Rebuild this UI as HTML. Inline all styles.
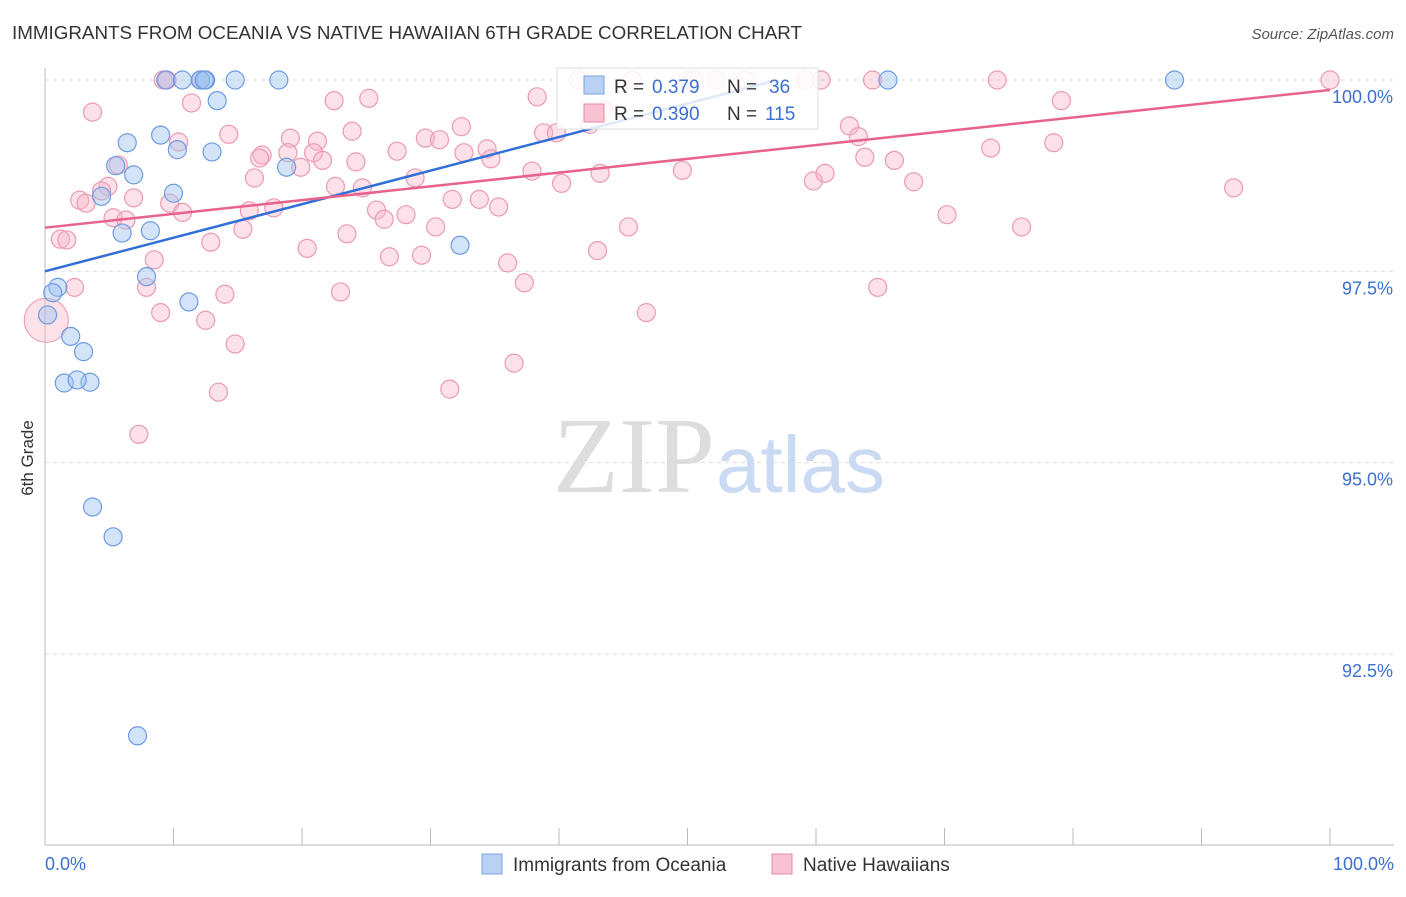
<!DOCTYPE html>
<html><head><meta charset="utf-8"><style>
body{margin:0;background:#fff;font-family:"Liberation Sans",sans-serif;}
</style></head><body>
<svg id="c" width="1406" height="892" xmlns="http://www.w3.org/2000/svg">
<text x="12" y="39" font-size="18" fill="#333" textLength="790" lengthAdjust="spacingAndGlyphs">IMMIGRANTS FROM OCEANIA VS NATIVE HAWAIIAN 6TH GRADE CORRELATION CHART</text>
<text x="1394" y="39" font-size="15" fill="#555" text-anchor="end" font-style="italic">Source: ZipAtlas.com</text>
<text x="33" y="458" font-size="17" fill="#333" text-anchor="middle" transform="rotate(-90 33 458)">6th Grade</text>
<g id="grid"></g>
<text x="553" y="492" font-size="108" fill="#ddd" font-family="Liberation Serif">ZIP</text>
<text x="716" y="492" font-size="80" fill="#c9daf2">atlas</text>
<g id="pts"></g>
<g id="lines"></g>
<g>
<rect x="557" y="68" width="261" height="61" fill="#fff" fill-opacity="0.85" stroke="#ddd"/>
<rect x="584" y="76" width="20" height="18" fill="#b9d2f4" stroke="#7aa3e0"/>
<text x="614" y="93" font-size="19" fill="#333">R =</text>
<text x="652" y="93" font-size="19" fill="#3b6fd0">0.379</text>
<text x="727" y="93" font-size="19" fill="#333">N =</text>
<text x="769" y="93" font-size="19" fill="#3b6fd0">36</text>
<rect x="584" y="104" width="20" height="18" fill="#f8c2d2" stroke="#e88aa6"/>
<text x="614" y="120" font-size="19" fill="#333">R =</text>
<text x="652" y="120" font-size="19" fill="#3b6fd0">0.390</text>
<text x="727" y="120" font-size="19" fill="#333">N =</text>
<text x="765" y="120" font-size="19" fill="#3b6fd0">115</text>
</g>
<g>
<rect x="482" y="854" width="20" height="20" fill="#b9d2f4" stroke="#7aa3e0"/>
<text x="513" y="871" font-size="19" fill="#333">Immigrants from Oceania</text>
<rect x="772" y="854" width="20" height="20" fill="#f8c2d2" stroke="#e88aa6"/>
<text x="803" y="871" font-size="19" fill="#333">Native Hawaiians</text>
</g>
<text x="45" y="870" font-size="18" fill="#3b6fd0">0.0%</text>
<text x="1394" y="870" font-size="18" fill="#3b6fd0" text-anchor="end">100.0%</text>
</svg>
<script>
const blueX=[9.4,10.7,12.1,12.5,14.8,18.2,13.4,6.4,9.0,10.3,13.0,5.5,6.9,10.0,4.4,6.0,8.2,18.8,32.3,7.9,1.0,0.6,11.2,2.0,3.0,1.5,3.5,2.5,3.7,5.3,7.2,65.6,87.9,0.2,12.1,12.4];
const blueY=[100,100,100,100,100,100,99.73,99.18,99.28,99.09,99.06,98.88,98.76,98.52,98.48,98.0,98.03,98.86,97.84,97.43,97.29,97.22,97.10,96.65,96.45,96.04,96.05,96.08,94.42,94.03,91.43,100,100,96.93,100,100];
const pinkX=[9.2,12.1,41.5,45.7,50.5,52.2,54.5,59.2,60.4,64.4,74.1,100,9.5,50.0,3.7,11.4,22.5,25.2,38.3,79.1,10.4,14.3,19.1,21.2,23.9,32.4,29.6,30.7,38.8,39.8,42.4,43.5,62.6,63.3,5.7,16.9,16.7,18.9,20.9,21.6,19.9,24.2,27.4,32.6,34.4,34.7,37.9,43.2,49.6,63.8,66.1,73.6,78.5,4.9,4.4,2.7,3.2,6.9,5.3,6.3,9.7,10.7,16.3,15.9,17.8,22.6,24.7,25.8,26.4,28.1,28.8,31.7,33.8,35.3,40.2,59.8,60.7,67.6,92.5,1.2,1.7,12.9,15.4,20.4,23.5,26.8,29.3,30.4,36.0,43.0,45.4,70.2,76.0,8.5,7.9,2.3,9.0,12.5,14.0,23.0,37.3,46.8,64.8,14.8,13.5,31.5,36.5,7.3];
const pinkY=[100,100,100,100,100,100,100,100,100,100,100,100,100,100,99.58,99.70,99.73,99.76,99.78,99.73,99.19,99.29,99.24,99.20,99.33,99.39,99.24,99.22,99.31,99.31,99.42,99.61,99.40,99.26,98.89,99.02,98.98,99.05,99.05,98.95,98.86,98.93,99.07,99.05,99.10,98.97,98.81,98.78,98.82,98.99,98.95,99.11,99.18,98.61,98.55,98.43,98.39,98.46,98.20,98.17,98.39,98.27,98.72,98.29,98.33,98.61,98.59,98.30,98.18,98.24,98.72,98.44,98.44,98.34,98.65,98.68,98.78,98.67,98.59,97.92,97.91,97.88,98.05,97.80,97.99,97.69,97.71,98.08,97.61,97.77,98.08,98.24,98.08,97.65,97.29,97.29,96.96,96.86,97.20,97.23,97.35,96.96,97.29,96.55,95.92,95.96,96.30,95.37];
const blueTrend=[0,97.5,57,100];
const pinkTrend=[0,98.07,100,99.87];
const yTicks=[100,97.5,95,92.5];
const yTickLabels=["100.0%","97.5%","95.0%","92.5%"];
const xTicks=[0,10,20,30,40,50,60,70,80,90,100];
const NS="http://www.w3.org/2000/svg";
const sx=v=>45+v*12.85, sy=v=>80+(100-v)*76.52;
function mk(t,a,p){const e=document.createElementNS(NS,t);for(const k in a)e.setAttribute(k,a[k]);p.appendChild(e);return e;}
const g=document.getElementById('grid');
yTicks.forEach((t,i)=>{const l=mk('line',{x1:45,x2:1394,y1:sy(t),y2:sy(t),stroke:'#ddd','stroke-dasharray':'4,4'},g);


const tx=mk('text',{x:1393,y:sy(t)+23,'font-size':18,fill:'#3b6fd0','text-anchor':'end'},g);tx.textContent=yTickLabels[i];

});
const ax=mk('line',{x1:45,x2:45,y1:68,y2:845,stroke:'#bbb'},g);


const bx=mk('line',{x1:45,x2:1394,y1:845,y2:845,stroke:'#bbb'},g);


xTicks.forEach(t=>{const l=mk('line',{x1:sx(t),x2:sx(t),y1:828,y2:845,stroke:'#bbb'},g);

});
const p=document.getElementById('pts');
pinkX.forEach((x,i)=>{const c=mk('circle',{cx:sx(x),cy:sy(pinkY[i]),r:9,fill:'rgba(248,180,200,0.4)',stroke:'#eb9ab2','stroke-width':1.2},p);

});
const bigp=mk('circle',{cx:sx(0.1),cy:sy(96.86),r:22,fill:'rgba(248,180,200,0.4)',stroke:'#eb9ab2'},p);


blueX.forEach((x,i)=>{const c=mk('circle',{cx:sx(x),cy:sy(blueY[i]),r:9,fill:'rgba(160,196,240,0.45)',stroke:'#6d9be0','stroke-width':1.2},p);

});
const L=document.getElementById('lines');
const bl=mk('line',{x1:sx(blueTrend[0]),y1:sy(blueTrend[1]),x2:sx(blueTrend[2]),y2:sy(blueTrend[3]),stroke:'#2f6fd6','stroke-width':2.5},L);


const pl=mk('line',{x1:sx(pinkTrend[0]),y1:sy(pinkTrend[1]),x2:sx(pinkTrend[2]),y2:sy(pinkTrend[3]),stroke:'#e8638c','stroke-width':2.5},L);


</script>
</body></html>
